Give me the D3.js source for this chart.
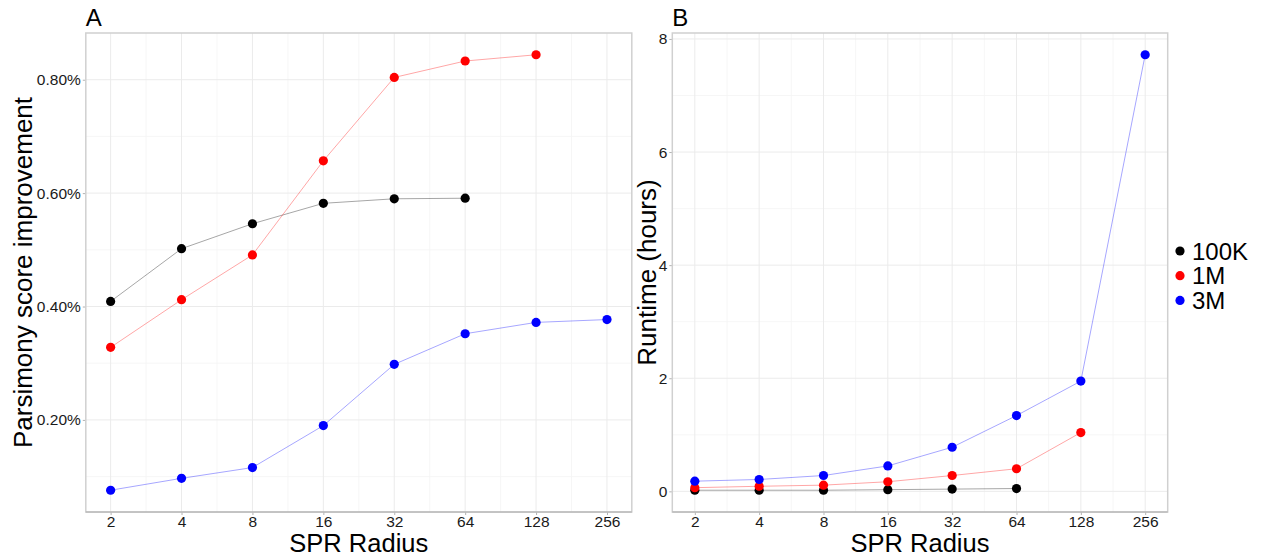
<!DOCTYPE html>
<html><head><meta charset="utf-8">
<script src="https://cdn.jsdelivr.net/npm/d3@7"></script>
<style>body{margin:0;background:#fff;} text{font-family:"Liberation Sans",Arial,sans-serif;}</style>
</head><body>
<svg id="c" width="1265" height="558"></svg>
<script>
const radius = [2,4,8,16,32,64,128,256];
const seriesNames = ["100K","1M","3M"];
const seriesColors = ["#000000","#FF0000","#0000FF"];
// Panel A: parsimony score improvement (%)
const A_100K = [0.409,0.502,0.546,0.582,0.590,0.591];
const A_1M   = [0.328,0.412,0.491,0.657,0.804,0.833,0.844];
const A_3M   = [0.076,0.097,0.116,0.190,0.298,0.352,0.372,0.377];
// Panel B: runtime (hours)
const B_100K = [0.02,0.02,0.02,0.03,0.04,0.05];
const B_1M   = [0.065,0.09,0.11,0.17,0.28,0.40,1.04];
const B_3M   = [0.18,0.21,0.28,0.45,0.78,1.34,1.95,7.72];
const yTicksA = [0.2,0.4,0.6,0.8];
const yTickLabelsA = ["0.20%","0.40%","0.60%","0.80%"];
const yTicksB = [0,2,4,6,8];

const svg = d3.select("#c");

function panel(opts){
  const {x0,x1,y0,y1,series,yTicks,yFmt,yMinor,title,ylab} = opts;
  const g = svg.append("g");
  const lx = radius.map(r=>Math.log2(r));
  const xr = d3.max(lx)-d3.min(lx);
  const x = d3.scaleLog().base(2)
    .domain([Math.pow(2,d3.min(lx)-0.05*xr), Math.pow(2,d3.max(lx)+0.05*xr)])
    .range([x0,x1]);
  const all = series.flat();
  const [mn,mx] = d3.extent(all);
  const yr = mx-mn;
  const y = d3.scaleLinear().domain([mn-0.05*yr, mx+0.05*yr]).range([y1,y0]);
  // minor grid
  const xMinor = d3.range(radius.length-1).map(i=>Math.sqrt(radius[i]*radius[i+1]));
  g.selectAll(".xm").data(xMinor).join("line")
    .attr("x1",d=>x(d)).attr("x2",d=>x(d)).attr("y1",y0).attr("y2",y1)
    .attr("stroke","#f4f4f4").attr("stroke-width",0.8);
  g.selectAll(".ym").data(yMinor).join("line")
    .attr("y1",d=>y(d)).attr("y2",d=>y(d)).attr("x1",x0).attr("x2",x1)
    .attr("stroke","#f4f4f4").attr("stroke-width",0.8);
  g.selectAll(".xg").data(radius).join("line")
    .attr("x1",d=>x(d)).attr("x2",d=>x(d)).attr("y1",y0).attr("y2",y1)
    .attr("stroke","#ebebeb").attr("stroke-width",1);
  g.selectAll(".yg").data(yTicks).join("line")
    .attr("y1",d=>y(d)).attr("y2",d=>y(d)).attr("x1",x0).attr("x2",x1)
    .attr("stroke","#ebebeb").attr("stroke-width",1);
  // axes
  const xa = g.append("g").attr("transform",`translate(0,${y1})`)
    .call(d3.axisBottom(x).tickValues(radius).tickFormat(d3.format("d")).tickSize(3).tickPadding(0.5));
  const ya = g.append("g").attr("transform",`translate(${x0},0)`)
    .call(d3.axisLeft(y).tickValues(yTicks).tickFormat((d,i)=>yFmt(d,i)).tickSize(3).tickPadding(2));
  [xa,ya].forEach(a=>{
    a.select(".domain").remove();
    a.selectAll(".tick line").attr("stroke","#b3b3b3");
    a.selectAll(".tick text").attr("fill","#1a1a1a").style("font-size","15.5px");
  });
  // border
  g.append("rect").attr("x",x0).attr("y",y0).attr("width",x1-x0).attr("height",y1-y0)
    .attr("fill","none").attr("stroke","#d0d0d0").attr("stroke-width",1.5);
  g.append("line").attr("x1",x0).attr("x2",x1).attr("y1",y1).attr("y2",y1)
    .attr("stroke","#ababab").attr("stroke-width",1.2);
  // lines & points
  series.forEach((vals,i)=>{
    const pts = vals.map((v,j)=>[radius[j],v]);
    g.append("path").datum(pts)
      .attr("d",d3.line().x(d=>x(d[0])).y(d=>y(d[1])))
      .attr("fill","none").attr("stroke",seriesColors[i]).attr("stroke-opacity",0.35).attr("stroke-width",1);
    g.selectAll(".p"+i).data(pts).join("circle")
      .attr("cx",d=>x(d[0])).attr("cy",d=>y(d[1])).attr("r",4.6).attr("fill",seriesColors[i]);
  });
  // titles
  g.append("text").attr("x",x0).attr("y",y0-7).text(title).style("font-size","24px").attr("fill","#000");
  g.append("text").attr("x",(x0+x1)/2).attr("y",552).attr("text-anchor","middle")
    .text("SPR Radius").style("font-size","25.5px").attr("fill","#000");
  g.append("text").attr("transform",`translate(${opts.ylabX},${(y0+y1)/2}) rotate(-90)`)
    .attr("text-anchor","middle").text(ylab).style("font-size","26px").attr("fill","#000");
}

panel({x0:85.8,x1:631.8,y0:33,y1:512,series:[A_100K,A_1M,A_3M],
  yTicks:yTicksA,yFmt:(d,i)=>yTickLabelsA[i],yMinor:[0.1,0.3,0.5,0.7],
  title:"A",ylab:"Parsimony score improvement",ylabX:32});
panel({x0:672.3,x1:1167.7,y0:33,y1:512,series:[B_100K,B_1M,B_3M],
  yTicks:yTicksB,yFmt:d=>d3.format("d")(d),yMinor:[1,3,5,7],
  title:"B",ylab:"Runtime (hours)",ylabX:656});

// legend
const lg = svg.append("g");
seriesNames.forEach((n,i)=>{
  const cy = 251 + i*24.7;
  lg.append("circle").attr("cx",1180).attr("cy",cy).attr("r",4.6).attr("fill",seriesColors[i]);
  lg.append("text").attr("x",1192).attr("y",cy+8.5).text(n).style("font-size","24px").attr("fill","#000");
});
</script>
</body></html>
